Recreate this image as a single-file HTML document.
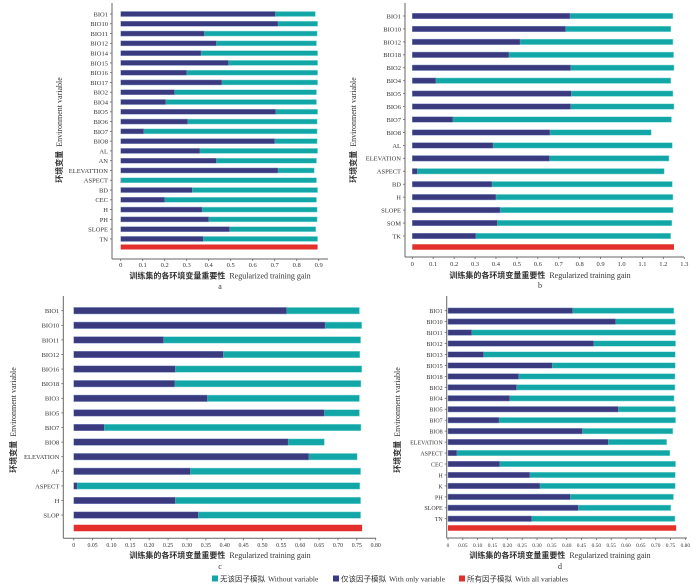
<!DOCTYPE html>
<html><head><meta charset="utf-8"><style>
html,body{margin:0;padding:0;background:#fff;}
svg{display:block;font-family:"Liberation Serif","Noto Serif CJK SC","Noto Sans CJK SC",serif;}
</style></head><body>
<svg id="chart" width="700" height="586" viewBox="0 0 700 586"></svg>
<script>
// ---- data ----
const catsA = ["BIO1","BIO10","BIO11","BIO12","BIO14","BIO15","BIO16","BIO17","BIO2","BIO4","BIO5","BIO6","BIO7","BIO8","AL","AN","ELEVATTION","ASPECT","BD","CEC","H","PH","SLOPE","TN"];
const onlyA = [0.703,0.715,0.38,0.435,0.365,0.49,0.30,0.46,0.245,0.205,0.705,0.305,0.105,0.70,0.36,0.435,0.715,0.003,0.325,0.20,0.37,0.40,0.495,0.375];
const withoutA = [0.885,0.895,0.893,0.89,0.895,0.895,0.895,0.895,0.89,0.89,0.895,0.893,0.893,0.893,0.895,0.89,0.88,0.89,0.895,0.89,0.893,0.893,0.887,0.895];
const allA = 0.895;
const ticksA = ["0","0.1","0.2","0.3","0.4","0.5","0.6","0.7","0.8","0.9"];

const catsB = ["BIO1","BIO10","BIO12","BIO18","BIO2","BIO4","BIO5","BIO6","BIO7","BIO8","AL","ELEVATION","ASPECT","BD","H","SLOPE","SOM","TK"];
const onlyB = [0.754,0.733,0.515,0.462,0.757,0.113,0.76,0.757,0.194,0.658,0.386,0.656,0.024,0.381,0.40,0.42,0.406,0.304];
const withoutB = [1.246,1.236,1.246,1.249,1.251,1.236,1.246,1.251,1.239,1.142,1.243,1.227,1.204,1.243,1.246,1.247,1.241,1.235];
const allB = 1.251;
const ticksB = ["0","0.1","0.2","0.3","0.4","0.5","0.6","0.7","0.8","0.9","1.0","1.1","1.2","1.3"];

const catsC = ["BIO1","BIO10","BIO11","BIO12","BIO16","BIO18","BIO3","BIO5","BIO7","BIO8","ELEVATION","AP","ASPECT","H","SLOP"];
const onlyC = [0.564,0.666,0.238,0.396,0.269,0.268,0.354,0.664,0.081,0.568,0.623,0.309,0.009,0.269,0.330];
const withoutC = [0.757,0.763,0.760,0.758,0.763,0.761,0.757,0.757,0.761,0.664,0.751,0.760,0.758,0.760,0.760];
const allC = 0.764;
const ticksC = ["0","0.05","0.10","0.15","0.20","0.25","0.30","0.35","0.40","0.45","0.50","0.55","0.60","0.65","0.70","0.75","0.80"];

const catsD = ["BIO1","BIO10","BIO11","BIO12","BIO13","BIO15","BIO18","BIO2","BIO4","BIO5","BIO7","BIO8","ELEVATION","ASPECT","CEC","H","K","PH","SLOPE","TN"];
const onlyD = [0.420,0.565,0.080,0.491,0.120,0.351,0.238,0.231,0.208,0.574,0.172,0.453,0.540,0.030,0.174,0.276,0.310,0.412,0.439,0.282];
const withoutD = [0.761,0.766,0.767,0.767,0.766,0.766,0.765,0.765,0.762,0.767,0.767,0.758,0.737,0.748,0.767,0.766,0.766,0.760,0.751,0.765];
const allD = 0.769;
const ticksD = ["0","0.05","0.10","0.15","0.20","0.25","0.30","0.35","0.40","0.45","0.50","0.55","0.60","0.65","0.70","0.75","0.80"];

// ---- drawing ----
const NS = "http://www.w3.org/2000/svg";
const svg = document.getElementById("chart");
const TEAL = "#12a7a6", NAVY = "#3a3a7e", RED = "#e3302c", AX = "#666";
function mk(tag, attrs, parent, text) {
  const e = document.createElementNS(NS, tag);
  for (const k in attrs) e.setAttribute(k, attrs[k]);
  if (text !== undefined) e.textContent = text;
  (parent || svg).appendChild(e);
  return e;
}

function panel(id, letter, cats, only, without, all, ticks, L) {
  const g = mk("g", {});
  
  
  const xs = v => L.x0 + v * L.ppu;
  const ys = i => L.firstY + i * L.pitch;
  // axes
  const ya = mk("line", {x1:L.axisX, x2:L.axisX, y1:L.top, y2:L.bottom, stroke:AX, "stroke-width":1}, g);
  
  
  const xa = mk("line", {x1:L.axisX, x2:L.right, y1:L.bottom, y2:L.bottom, stroke:AX, "stroke-width":1}, g);
  
  
  // x ticks
  ticks.forEach((t, k) => {
    const v = parseFloat(t);
    const x = xs(v);
    mk("line", {x1:x, x2:x, y1:L.bottom, y2:L.bottom + 2, stroke:AX, "stroke-width":0.8}, g);
    const tl = mk("text", {x:x, y:L.tickY, "font-size":L.tickFs, "text-anchor":"middle", fill:"#333"}, g, t);
    
    
  });
  // bars
  cats.forEach((c, i) => {
    const y = ys(i);
    mk("line", {x1:L.axisX - 2, x2:L.axisX, y1:y, y2:y, stroke:AX, "stroke-width":0.8}, g);
    const lab = mk("text", {x:L.axisX - 4, y:y + 2.4, "font-size":L.labFs, "text-anchor":"end", fill:"#333"}, g, c);
    
    
    const bw = mk("rect", {x:xs(0), y:y - L.barH/2, width:xs(without[i]) - xs(0), height:L.barH, fill:TEAL, stroke:"#8fdede", "stroke-width":0.5}, g);
    
    
    const bo = mk("rect", {x:xs(0), y:y - L.barH/2, width:Math.max(0.6, xs(only[i]) - xs(0)), height:L.barH, fill:NAVY, stroke:"#9a9ad0", "stroke-width":0.4}, g);
    
    
  });
  const br = mk("rect", {x:xs(0), y:L.redY - L.barH/2, width:xs(all) - xs(0), height:L.barH, fill:RED}, g);
  
  
  // titles
  const xt = mk("text", {x:L.titleX, y:L.titleY, "font-size":8, "text-anchor":"middle", fill:"#333"}, g);
  
  
  mk("tspan", {"font-weight":"bold", "font-family":"Noto Sans CJK SC, sans-serif"}, xt, "训练集的各环境变量重要性");
  mk("tspan", {dx:4}, xt, "Regularized training gain");
  const yt = mk("text", {transform:`translate(${L.ytX},${L.ytY}) rotate(-90)`, "font-size":8, "text-anchor":"middle", fill:"#333"}, g);
  
  
  mk("tspan", {"font-weight":"bold", "font-family":"Noto Sans CJK SC, sans-serif"}, yt, "环境变量");
  mk("tspan", {dx:4}, yt, "Environment variable");
  const lt = mk("text", {x:L.titleX, y:L.letterY, "font-size":8, "text-anchor":"middle", fill:"#333"}, g, letter);
  
  
}

panel("a", "a", catsA, onlyA, withoutA, allA, ticksA,
  {x0:120.7, ppu:220, axisX:112, top:3, bottom:259, right:328, firstY:14, pitch:9.78, barH:5, redY:247,
   tickY:267, tickFs:6.5, labFs:6.5, titleX:220, titleY:278.5, letterY:289, ytX:62, ytY:130});
panel("b", "b", catsB, onlyB, withoutB, allB, ticksB,
  {x0:412.3, ppu:209.2, axisX:405, top:3, bottom:257, right:684, firstY:16, pitch:12.94, barH:5.5, redY:247,
   tickY:266, tickFs:6.5, labFs:6.5, titleX:540, titleY:278, letterY:288, ytX:356, ytY:130});
panel("c", "c", catsC, onlyC, withoutC, allC, ticksC,
  {x0:73.7, ppu:377.5, axisX:63.3, top:296, bottom:538.3, right:376, firstY:310.7, pitch:14.6, barH:6.5, redY:528,
   tickY:547, tickFs:5.8, labFs:6.5, titleX:220, titleY:558, letterY:569, ytX:16, ytY:420});
panel("d", "d", catsD, onlyD, withoutD, allD, ticksD,
  {x0:448, ppu:296.7, axisX:446.7, top:296, bottom:538, right:687, firstY:310.7, pitch:10.95, barH:5.5, redY:528,
   tickY:547, tickFs:5.4, labFs:6, titleX:560, titleY:558, letterY:569, ytX:400, ytY:420});

// legend
const leg = mk("g", {});


const legItems = [["无该因子模拟","Without variable",TEAL,212],["仅该因子模拟","With only variable",NAVY,333],["所有因子模拟","With all variables",RED,459]];
legItems.forEach(it => {
  const s = mk("rect", {x:it[3], y:575.5, width:6, height:6, fill:it[2]}, leg);
  
  
  const t = mk("text", {x:it[3] + 8, y:581.5, "font-size":7.5, fill:"#333"}, leg);
  
  
  mk("tspan", {"font-family":"Noto Sans CJK SC, sans-serif"}, t, it[0]);
  mk("tspan", {dx:3}, t, it[1]);
});
</script>
</body></html>
